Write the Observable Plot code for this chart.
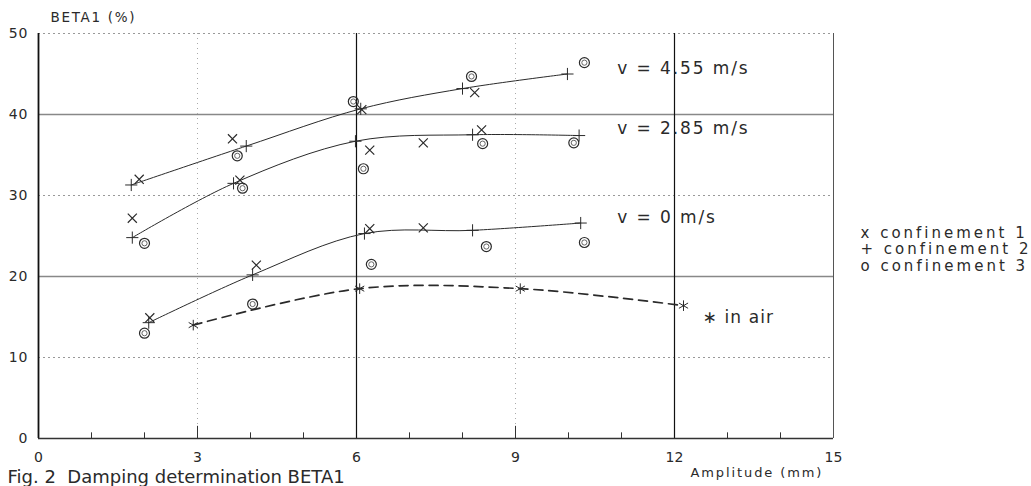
<!DOCTYPE html>
<html><head><meta charset="utf-8">
<script src="https://cdn.jsdelivr.net/npm/d3@7"></script>
<script src="https://cdn.jsdelivr.net/npm/@observablehq/plot@0.6"></script>
<style>body{margin:0;background:#fff}</style>
</head><body><div id="chart"></div>
<script>
// confinement 1 (x markers)
const conf1 = [
  {v:"4.55", x:1.9, y:32.0},{v:"4.55", x:3.66, y:37.0},{v:"4.55", x:6.1, y:40.6},{v:"4.55", x:8.23, y:42.7},
  {v:"2.85", x:1.77, y:27.2},{v:"2.85", x:3.8, y:31.9},{v:"2.85", x:6.25, y:35.6},{v:"2.85", x:7.26, y:36.5},{v:"2.85", x:8.36, y:38.1},
  {v:"0", x:2.1, y:14.9},{v:"0", x:4.11, y:21.4},{v:"0", x:6.25, y:25.9},{v:"0", x:7.26, y:26.0}
];
// confinement 2 (+ markers, joined by the curves)
const conf2 = [
  {v:"4.55", x:1.75, y:31.3},{v:"4.55", x:3.92, y:36.1},{v:"4.55", x:6.08, y:40.7},{v:"4.55", x:8.0, y:43.2},{v:"4.55", x:9.98, y:45.0},
  {v:"2.85", x:1.77, y:24.8},{v:"2.85", x:3.68, y:31.5},{v:"2.85", x:5.98, y:36.7},{v:"2.85", x:8.19, y:37.5},{v:"2.85", x:10.2, y:37.4},
  {v:"0", x:2.08, y:14.3},{v:"0", x:4.04, y:20.2},{v:"0", x:6.15, y:25.3},{v:"0", x:8.19, y:25.7},{v:"0", x:10.23, y:26.6}
];
// confinement 3 (o markers)
const conf3 = [
  {v:"4.55", x:3.75, y:34.9},{v:"4.55", x:5.94, y:41.6},{v:"4.55", x:8.17, y:44.7},{v:"4.55", x:10.3, y:46.4},
  {v:"2.85", x:2.0, y:24.1},{v:"2.85", x:3.85, y:30.9},{v:"2.85", x:6.13, y:33.3},{v:"2.85", x:8.38, y:36.4},{v:"2.85", x:10.1, y:36.5},
  {v:"0", x:2.0, y:13.0},{v:"0", x:4.04, y:16.6},{v:"0", x:6.28, y:21.5},{v:"0", x:8.45, y:23.7},{v:"0", x:10.3, y:24.2}
];
// in air (* markers, dashed curve)
const inAir = [
  {x:2.92, y:14.0},{x:6.06, y:18.5},{x:9.09, y:18.5},{x:12.17, y:16.4}
];
const xTicks = [0, 3, 6, 9, 12, 15];
const yTicks = [0, 10, 20, 30, 40, 50];
const minorTicks = [1, 2, 4, 5, 7, 8, 10, 11, 13, 14];
const midTicks = [3, 9];
const gridSolidY = [20, 40];
const gridDotY = [10, 30, 50];
const gridSolidX = [6, 12];
const gridDotX = [3, 9];
const curveLabels = [
  {text:"v = 4.55 m/s", x:10.92, y:45.7},
  {text:"v = 2.85 m/s", x:10.92, y:38.3},
  {text:"v = 0 m/s", x:10.92, y:27.3}
];
const airLabel = [{text:"\u2217 in air", x:12.53, y:14.9}];
const legendText = "x confinement 1\n+ confinement 2\no confinement 3";
const title = "Fig. 2  Damping determination BETA1";
const xLabel = "Amplitude (mm)";
const yLabel = "BETA1 (%)";

const ink = "#2a2a2a";
const chart = Plot.plot({
  width: 1031, height: 486,
  marginLeft: 38, marginRight: 198, marginTop: 33, marginBottom: 48,
  x: {domain: [0, 15]},
  y: {domain: [0, 50]},
  style: {fontFamily: "DejaVu Sans", color: ink, background: "#fff", overflow: "visible"},
  marks: [
    Plot.ruleY(gridDotY, {stroke: "#999", strokeDasharray: "2,3", strokeWidth: 1}),
    Plot.ruleY(gridSolidY, {stroke: "#888", strokeWidth: 1.4}),
    Plot.ruleX(gridDotX, {stroke: "#aaa", strokeDasharray: "1,4", strokeWidth: 1}),
    Plot.ruleX(gridSolidX, {stroke: "#111", strokeWidth: 1.2}),
    Plot.ruleX([15], {stroke: "#555", strokeWidth: 1}),
    Plot.ruleX([0], {stroke: "#111", strokeWidth: 1.8}),
    Plot.ruleY([0], {stroke: "#333", strokeWidth: 1.6}),
    Plot.ruleX(minorTicks, {y1: 0, y2: 0.7, stroke: "#333"}),
    Plot.ruleX(midTicks, {y1: 0, y2: 1.5, stroke: "#333"}),
    Plot.line(conf2, {x: "x", y: "y", z: "v", curve: "catmull-rom", stroke: ink, strokeWidth: 1}),
    Plot.line(inAir, {x: "x", y: "y", curve: "catmull-rom", stroke: ink, strokeWidth: 1.7, strokeDasharray: "9,6"}),
    Plot.dot(conf1, {x: "x", y: "y", symbol: "times", r: 4.2, stroke: ink, strokeWidth: 1.2}),
    Plot.dot(conf2, {x: "x", y: "y", symbol: "plus", r: 4, stroke: ink, strokeWidth: 1}),
    Plot.dot(conf3, {x: "x", y: "y", r: 5, stroke: ink, strokeWidth: 1.2}),
    Plot.dot(conf3, {x: "x", y: "y", r: 2.6, stroke: "#555", strokeWidth: 0.9}),
    Plot.dot(inAir, {x: "x", y: "y", symbol: "asterisk", r: 5, stroke: ink, strokeWidth: 1}),
    Plot.axisX(xTicks, {tickSize: 0, tickPadding: 14, fontSize: 14, label: null, ariaDescription: "xticks"}),
    Plot.axisY(yTicks, {tickSize: 0, tickPadding: 10, fontSize: 14, label: null, ariaDescription: "yticks"}),
    Plot.text(curveLabels, {x: "x", y: "y", text: "text", textAnchor: "start", fontSize: 17, fill: ink, ariaDescription: "vlabels"}),
    Plot.text(airLabel, {x: "x", y: "y", text: "text", textAnchor: "start", fontSize: 17, fill: ink, ariaDescription: "airlabel"}),
    Plot.text([legendText], {frameAnchor: "right", textAnchor: "start", lineAnchor: "middle", dx: 27, dy: 13, fontSize: 15, lineHeight: 1.1, fill: ink, ariaDescription: "legend"}),
    Plot.text([title], {frameAnchor: "bottom-left", textAnchor: "start", lineAnchor: "middle", dx: -31, dy: 39, fontSize: 18, fill: ink, ariaDescription: "title"}),
    Plot.text([xLabel], {frameAnchor: "bottom-right", textAnchor: "start", lineAnchor: "middle", dx: -143, dy: 34, fontSize: 13, fill: ink, ariaDescription: "xlabel"}),
    Plot.text([yLabel], {frameAnchor: "top-left", textAnchor: "start", lineAnchor: "middle", dx: 12, dy: -16, fontSize: 13.5, fill: ink, ariaDescription: "ylabel"})
  ]
});
const spacing = {vlabels: 1.9, airlabel: 1.1, legend: 3, xlabel: 1.9, ylabel: 1.7, yticks: 1};
for (const [k, s] of Object.entries(spacing)) {
  d3.select(chart).selectAll(`[aria-description="${k}"] text`).attr("letter-spacing", s);
}
document.getElementById("chart").appendChild(chart);
</script>
</body></html>
